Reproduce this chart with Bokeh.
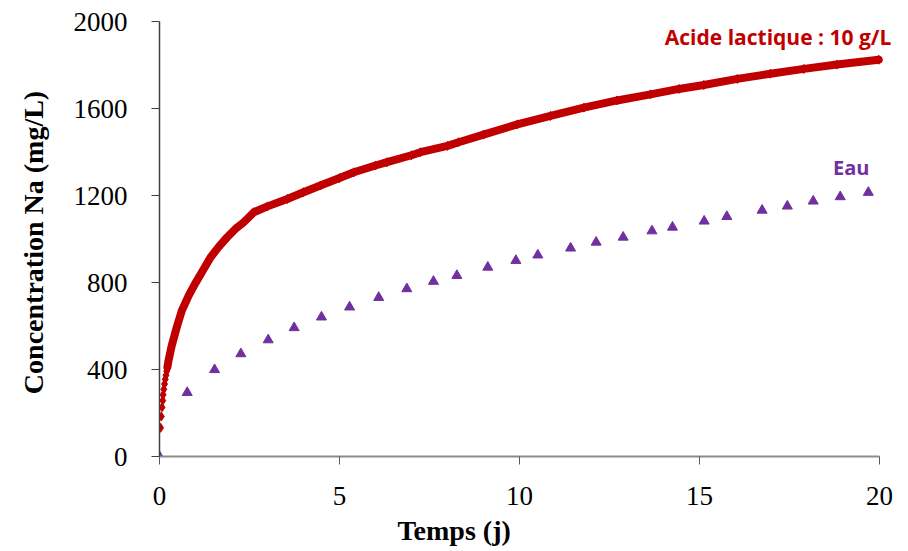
from bokeh.plotting import figure
from bokeh.models import Range1d, Label, FixedTicker, Title
from bokeh.embed import file_html
from bokeh.resources import INLINE

# Acide lactique 10 g/L (red diamonds)
acid_t = [0.03, 0.05, 0.07, 0.09, 0.10, 0.12, 0.14, 0.16, 0.18, 0.20, 0.22,
          0.25, 0.34, 0.48, 0.62, 0.81, 0.99, 1.18, 1.42, 1.65, 1.88, 2.10, 2.34, 2.62,
          3.00, 3.55, 4.00, 4.47, 5.00, 5.40, 6.00, 6.32, 7.00, 7.25, 8.00, 8.31,
          9.00, 9.94, 10.86, 11.79, 12.71, 13.64, 14.43, 15.12, 16.05, 16.97, 17.90,
          18.82, 19.98]
acid_na = [132, 184, 226, 257, 284, 309, 333, 355, 374, 392, 411,
           441, 510, 595, 671, 740, 795, 848, 916, 965, 1008, 1045, 1077, 1123,
           1150, 1184, 1215, 1246, 1280, 1307, 1338, 1353, 1385, 1399, 1428, 1445,
           1480, 1527, 1566, 1604, 1637, 1665, 1690, 1708, 1736, 1760, 1782,
           1802, 1824]

# Eau (purple triangles)
eau_t = [0.0, 0.77, 1.53, 2.26, 3.02, 3.74, 4.50, 5.28, 6.09, 6.87, 7.61,
         8.26, 9.12, 9.90, 10.51, 11.42, 12.13, 12.88, 13.68, 14.25, 15.13,
         15.76, 16.74, 17.44, 18.16, 18.91, 19.69]
eau_na = [0, 294, 399, 472, 536, 592, 641, 687, 731, 771, 805,
          832, 870, 901, 926, 958, 985, 1008, 1037, 1054, 1082,
          1103, 1132, 1151, 1174, 1194, 1214]

x_ticks = [0, 5, 10, 15, 20]
y_ticks = [0, 400, 800, 1200, 1600, 2000]

RED = "#C00000"
PURPLE = "#7030A0"

W, H = 900, 551
p = figure(width=W, height=H, output_backend="svg", toolbar_location=None,
           x_range=Range1d(0, 20.39), y_range=Range1d(0, 2000),
           min_border_left=159, min_border_right=7, min_border_top=21,
           min_border_bottom=95)
p.outline_line_color = None
p.grid.visible = False
p.background_fill_color = "white"

p.line(acid_t[10:], acid_na[10:], line_color=RED, line_width=8, line_join="round", line_cap="round")
p.scatter(acid_t, acid_na, marker="diamond", size=9, fill_color=RED, line_color=RED)
p.scatter(eau_t, eau_na, marker="triangle", size=10, fill_color=PURPLE, line_color=PURPLE)

# axes
p.xaxis.ticker = FixedTicker(ticks=x_ticks)
p.yaxis.ticker = FixedTicker(ticks=y_ticks)
p.xaxis.bounds = (0, 20)
for ax in (p.xaxis[0], p.yaxis[0]):
    ax.minor_tick_line_color = None
    ax.major_tick_in = 0
    ax.major_label_text_font = "Liberation Serif"
    ax.major_label_text_font_size = "27px"
    ax.major_label_text_color = "black"
p.xaxis.axis_line_color = "#8C8C8C"
p.xaxis.axis_line_width = 2
p.xaxis.major_tick_line_color = "#595959"
p.xaxis.major_tick_out = 8
p.xaxis.major_label_standoff = 22
p.yaxis.axis_line_color = "#404040"
p.yaxis.axis_line_width = 1.5
p.yaxis.major_tick_line_color = "#404040"
p.yaxis.major_tick_out = 8
p.yaxis.major_label_standoff = 24

p.yaxis.axis_label = "Concentration  Na (mg/L)"
p.yaxis.axis_label_text_font = "Liberation Serif"
p.yaxis.axis_label_text_font_style = "bold"
p.yaxis.axis_label_text_font_size = "28px"
p.yaxis.axis_label_text_color = "black"
p.yaxis.axis_label_standoff = 22

xt = Title(text="Temps (j)", align="left", offset=238, text_font="Liberation Serif",
           text_font_style="bold", text_font_size="28px", text_color="black", standoff=11)
p.add_layout(xt, "below")

p.add_layout(Label(x=20.33, y=1931, text="Acide lactique : 10 g/L", text_align="right",
                   text_baseline="middle", text_font="Open Sans", text_font_style="bold",
                   text_font_size="21px", text_color=RED))
p.add_layout(Label(x=19.72, y=1329, text="Eau", text_align="right",
                   text_baseline="middle", text_font="Open Sans", text_font_style="bold",
                   text_font_size="20px", text_color=PURPLE))

open("out.html", "w").write(file_html(p, INLINE))
